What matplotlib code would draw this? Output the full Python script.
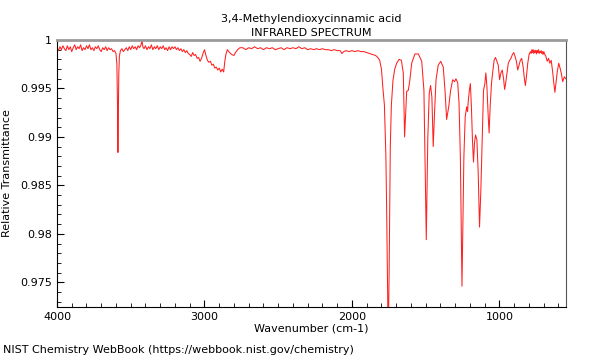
import matplotlib
matplotlib.use("Agg")
import matplotlib.pyplot as plt
from matplotlib.ticker import MultipleLocator, FormatStrFormatter

# spectrum (wavenumber in cm-1, relative transmittance)
wavenumber = [
    4000, 3990, 3980, 3970, 3960, 3950, 3940, 3930, 3920, 3910,
    3900, 3890, 3880, 3870, 3860, 3850, 3840, 3830, 3820, 3810,
    3800, 3790, 3780, 3770, 3760, 3750, 3740, 3730, 3720, 3710,
    3700, 3690, 3680, 3670, 3660, 3650, 3640, 3630, 3620,
    3610, 3600, 3594, 3590, 3587, 3584, 3581, 3577, 3570,
    3560, 3550, 3540, 3530, 3520, 3510, 3500, 3490, 3480, 3470,
    3460, 3450, 3440, 3430, 3424, 3418, 3410, 3400, 3390, 3380,
    3370, 3360, 3350, 3340, 3330, 3320, 3310, 3300, 3290, 3280,
    3270, 3260, 3250, 3240, 3230, 3220, 3210, 3200, 3190, 3180,
    3170, 3160, 3150, 3140, 3130, 3120, 3110,
    3100, 3090, 3080, 3070, 3060, 3050, 3040, 3030, 3020, 3010,
    3000, 2990, 2980, 2970, 2960, 2950, 2940, 2930, 2920, 2910,
    2900, 2890, 2880, 2870, 2862, 2855, 2845, 2830, 2815, 2800,
    2790, 2775, 2760, 2740, 2720,
    2700, 2680, 2660, 2640, 2620, 2600, 2580, 2560, 2540, 2520,
    2500, 2480, 2460, 2440, 2420, 2400, 2380, 2360, 2340, 2320,
    2300, 2280, 2260, 2240, 2220, 2200, 2180, 2160, 2140, 2120,
    2100, 2080, 2068, 2055, 2040, 2020, 2000, 1980, 1960, 1940,
    1920, 1900, 1880, 1860, 1840, 1825, 1812, 1800, 1790, 1780,
    1770, 1765, 1760, 1756, 1752, 1748, 1740, 1733, 1722, 1710,
    1697, 1680, 1665, 1652, 1643, 1634, 1629, 1618, 1607, 1595,
    1573, 1550, 1527, 1512, 1503, 1496, 1486, 1476, 1467, 1458,
    1449, 1440, 1430, 1415, 1398, 1381, 1369, 1358, 1344, 1331,
    1317, 1304, 1295, 1283, 1274, 1265, 1259, 1254, 1248, 1241,
    1232, 1222, 1216, 1212, 1204, 1197, 1190, 1183, 1176, 1169,
    1162, 1153, 1144, 1135, 1126, 1117, 1108, 1099, 1092, 1085,
    1076, 1070, 1063, 1054, 1044, 1036, 1027, 1017, 1008, 999,
    990, 981, 972, 965, 959, 949, 940, 931, 922, 912,
    903, 894, 885, 876, 867, 858, 849, 839, 830, 824,
    817, 808, 799, 790, 785, 780, 776, 771, 767, 762,
    758, 753, 749, 744, 740, 735, 731, 726, 722, 717,
    713, 708, 704, 699, 694, 685, 676, 667, 658, 649,
    639, 631, 624, 617, 608, 598, 589, 581, 571, 560, 550,
]
transmittance = [
    0.9992, 0.9989, 0.9993, 0.9990, 0.9994, 0.9991, 0.9989, 0.9994, 0.9990, 0.9993,
    0.9988, 0.9992, 0.9995, 0.9990, 0.9993, 0.9991, 0.9995, 0.9989, 0.9992, 0.9990,
    0.9994, 0.9991, 0.9995, 0.9990, 0.9992, 0.9989, 0.9993, 0.9991, 0.9994, 0.9990,
    0.9988, 0.9992, 0.9990, 0.9993, 0.9989, 0.9992, 0.9990, 0.9991, 0.9988,
    0.9989, 0.9986, 0.9975, 0.9935, 0.9884, 0.9920, 0.9965, 0.9983, 0.9989,
    0.9991, 0.9988, 0.9990, 0.9992, 0.9989, 0.9993, 0.9990, 0.9994, 0.9991, 0.9993,
    0.9990, 0.9994, 0.9992, 0.9995, 1.0000, 0.9993, 0.9991, 0.9994, 0.9990, 0.9993,
    0.9991, 0.9995, 0.9990, 0.9993, 0.9991, 0.9994, 0.9990, 0.9993, 0.9991, 0.9994,
    0.9990, 0.9992, 0.9989, 0.9993, 0.9990, 0.9993, 0.9991, 0.9993, 0.9990, 0.9992,
    0.9989, 0.9991, 0.9988, 0.9990, 0.9987, 0.9989, 0.9986,
    0.9985, 0.9983, 0.9987, 0.9984, 0.9985, 0.9981, 0.9982, 0.9978, 0.9981, 0.9986,
    0.9990, 0.9984, 0.9979, 0.9977, 0.9978, 0.9974, 0.9975, 0.9971, 0.9972, 0.9969,
    0.9971, 0.9967, 0.9970, 0.9967, 0.9978, 0.9985, 0.9990, 0.9987, 0.9985, 0.9984,
    0.9987, 0.9990, 0.9992, 0.9992, 0.9990,
    0.9992, 0.9991, 0.9993, 0.9991, 0.9992, 0.9990, 0.9992, 0.9991, 0.9992, 0.9990,
    0.9991, 0.9992, 0.9990, 0.9992, 0.9991, 0.9992, 0.9991, 0.9993, 0.9991, 0.9992,
    0.9990, 0.9991, 0.9990, 0.9991, 0.9990, 0.9991, 0.9990, 0.9990, 0.9989, 0.9990,
    0.9989, 0.9989, 0.9986, 0.9988, 0.9989, 0.9988, 0.9989, 0.9988, 0.9989, 0.9988,
    0.9988, 0.9987, 0.9986, 0.9985, 0.9984, 0.9982, 0.9979, 0.9970, 0.9950, 0.9933,
    0.9880, 0.9828, 0.9760, 0.9712, 0.9712, 0.9760, 0.9890, 0.9932, 0.9958, 0.9970,
    0.9976, 0.9980, 0.9979, 0.9966, 0.9900, 0.9931, 0.9947, 0.9948, 0.9959, 0.9976,
    0.99856, 0.99856, 0.9978, 0.9948, 0.9863, 0.9794, 0.9897, 0.9945, 0.9953, 0.9941,
    0.9890, 0.9925, 0.9959, 0.9974, 0.9978, 0.9972, 0.9948, 0.9918, 0.9931, 0.9948,
    0.9959, 0.9957, 0.9960, 0.9956, 0.9935, 0.9880, 0.9811, 0.9746, 0.9811, 0.9880,
    0.9921, 0.9931, 0.9926, 0.9936, 0.9948, 0.9955, 0.9931, 0.9897, 0.9874, 0.9894,
    0.9902, 0.9897, 0.9863, 0.9807, 0.9845, 0.9897, 0.9948, 0.9955, 0.9966, 0.9952,
    0.9921, 0.9904, 0.9931, 0.9955, 0.9969, 0.9979, 0.9982, 0.9978, 0.9974, 0.9959,
    0.9966, 0.9969, 0.9960, 0.9949, 0.9954, 0.9966, 0.9976, 0.9979, 0.9981, 0.9985,
    0.9987, 0.9983, 0.9978, 0.9969, 0.9974, 0.9979, 0.9981, 0.9972, 0.9959, 0.9953,
    0.9962, 0.9976, 0.9985, 0.9988, 0.9986, 0.9990, 0.9987, 0.9990, 0.9986, 0.9989,
    0.9987, 0.99895, 0.99856, 0.9989, 0.9987, 0.9990, 0.9986, 0.9988, 0.9987, 0.9989,
    0.9986, 0.9988, 0.9985, 0.9988, 0.99856, 0.9983, 0.9978, 0.9981, 0.9976, 0.9979,
    0.9967, 0.9955, 0.9946, 0.9955, 0.9967, 0.9976, 0.9971, 0.9966, 0.9957, 0.9962, 0.9960,
]

title_lines = ["3,4-Methylendioxycinnamic acid", "INFRARED SPECTRUM"]
footer = "NIST Chemistry WebBook (https://webbook.nist.gov/chemistry)"

plt.rcParams['font.family'] = ['DejaVu Sans']
plt.rcParams['font.size'] = 8

fig = plt.figure(figsize=(6, 3.6), dpi=100)
ax = fig.add_axes([0.095, 0.147, 0.848, 0.742])

ax.plot(wavenumber, transmittance, color='#ff2020', lw=0.75)

ax.set_xlim(4000, 550)
ax.set_ylim(0.97245, 1.0)
ax.xaxis.set_major_locator(MultipleLocator(1000))
ax.xaxis.set_minor_locator(MultipleLocator(100))
ax.yaxis.set_major_locator(MultipleLocator(0.005))
ax.yaxis.set_minor_locator(MultipleLocator(0.001))
ax.yaxis.set_major_formatter(FormatStrFormatter('%g'))
ax.tick_params(which='both', direction='in', top=False, right=False)
ax.tick_params(which='major', length=5, width=0.8)
ax.tick_params(which='minor', length=3, width=0.6)

ax.spines['top'].set_color('#9a9a9a')
ax.spines['top'].set_linewidth(2)
ax.spines['right'].set_color('#555555')

ax.set_xlabel('Wavenumber (cm-1)', labelpad=1)
ax.set_ylabel('Relative Transmittance', labelpad=6)
ax.set_title("\n".join(title_lines), fontsize=8, linespacing=1.5, pad=3)
fig.text(0.005, 0.02, footer, fontsize=8)

fig.savefig('out.png', dpi=100)
